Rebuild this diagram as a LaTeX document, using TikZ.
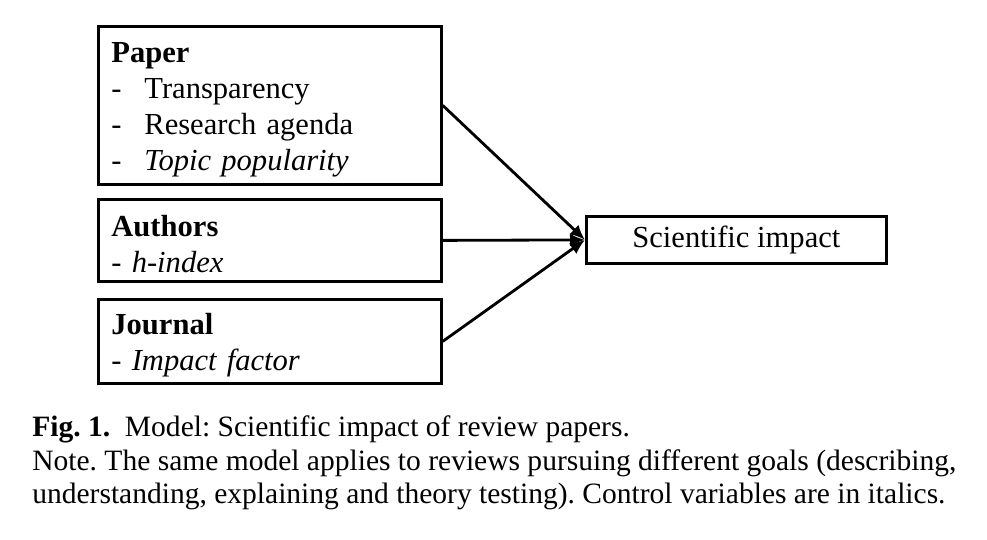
\documentclass[tikz,border=0pt]{standalone}
\usepackage{fontspec}
\setmainfont{Liberation Serif}
\usepackage{tikz}
\usetikzlibrary{arrows.meta,positioning,calc}
\frenchspacing
\newcommand{\diagfont}{\fontsize{17.4}{20.5}\selectfont}
\newcommand{\capfont}{\fontsize{16.8}{19}\selectfont}
\newcommand{\dashItem}[1]{\makebox[0.66cm][l]{-}#1}
\tikzset{
    factorBox/.style={
        rectangle,
        draw,
        line width=1.6pt,
        anchor=north west,
        text width=6.34cm,
        inner xsep=0.26cm,
        inner ysep=0pt,
        align=left,
        font=\diagfont,
        execute at begin node={\rule{0pt}{16pt}}
    },
    outcomeBox/.style={
        rectangle,
        draw,
        line width=1.6pt,
        anchor=north west,
        minimum width=6cm,
        minimum height=0.94cm,
        inner sep=0pt,
        align=center,
        font=\diagfont
    },
    capLine/.style={anchor=base west, inner sep=0pt, font=\capfont}
}

\begin{document}
\begin{tikzpicture}[
    x=0.02cm, y=-0.02cm,
    arr/.style={-{Latex[length=0.3cm, width=0.26cm]}, line width=1.6pt}
]
\useasboundingbox (0,0) rectangle (987,540);
% factors
\node[factorBox, minimum height=3.16cm] (paper) at (97,25)
    {\textbf{Paper}\\ \dashItem{Transparency}\\ \dashItem{Research agenda}\\ \dashItem{\textit{Topic popularity}}};
\node[factorBox, minimum height=1.64cm] (authors) at (97,198)
    {\textbf{Authors}\\ - \textit{h-index}};
\node[factorBox, minimum height=1.68cm] (journal) at (97,298)
    {\textbf{Journal}\\ - \textit{Impact factor}};
% outcome
\node[outcomeBox] (impact) at (585,215) {Scientific impact};

\draw[arr] (paper.east) -- (impact.west);
\draw[arr] (authors.east) -- (impact.west);
\draw[arr] (journal.east) -- (impact.west);

% caption
\node[capLine] (figcap) at (32,437) {\textbf{Fig. 1.}\ \ Model: Scientific impact of review papers.};
\node[capLine] (note1) at (32,470) {Note. The same model applies to reviews pursuing different goals (describing,};
\node[capLine] (note2) at (32,503) {understanding, explaining and theory testing). Control variables are in italics.};
\end{tikzpicture}
\end{document}
